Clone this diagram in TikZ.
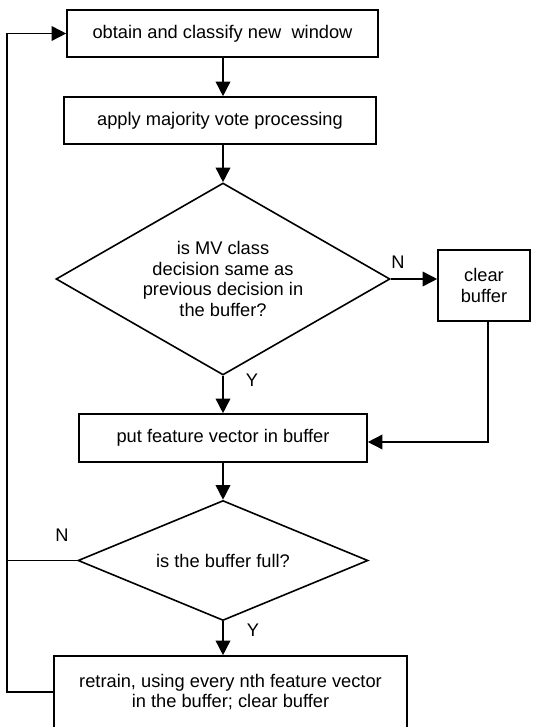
\documentclass[tikz,border=0pt]{standalone}
\usepackage{fontspec}
\setmainfont{Liberation Sans}
\usetikzlibrary{shapes.geometric,arrows.meta}

\begin{document}
\begin{tikzpicture}[x=0.75pt,y=-0.75pt,
    line width=1.2pt,
    font=\fontsize{13.7}{15.6}\selectfont,
    box/.style={draw, rectangle, align=center, inner sep=0pt},
    decide/.style={draw, diamond, align=center, inner sep=0pt, aspect=1.7},
    flow/.style={-{Triangle[length=11pt,width=11pt]}}]
            \useasboundingbox (0,0) rectangle (532,727);
            \clip (0,0) rectangle (532,727);

            \node[box, minimum width=233.25pt, minimum height=35.25pt] (obtain) at (222.5,33.5) {obtain and classify new\ \ window};
            \node[box, minimum width=234pt, minimum height=35.25pt] (vote) at (220,120.5) {apply majority vote processing};
            \node[decide, minimum width=250.5pt, minimum height=144pt] (same) at (223,279) {is MV class\\decision same as\\previous decision in\\the buffer?};
            \node[box, minimum width=69pt, minimum height=53.25pt] (clear) at (484,285.5) {clear\\buffer};
            \node[box, minimum width=216pt, minimum height=36pt] (put) at (223,438) {put feature vector in buffer};
            \node[decide, minimum width=217.5pt, minimum height=90pt] (full) at (223,560.5) {is the buffer full?};
            \node[box, minimum width=264.75pt, minimum height=54pt] (retrain) at (230.5,692) {retrain, using every nth feature vector\\in the buffer; clear buffer};

            \node (n1) at (398,262) {N};
            \node (y1) at (252,380) {Y};
            \node (n2) at (62,535) {N};
            \node (y2) at (253,630) {Y};

            \coordinate (join) at (488,442);
            \coordinate (back) at (7,692);

            \foreach \a/\b in {obtain/vote,vote/same,same/put,put/full,full/retrain} {
                \draw[flow] (\a.south -| same) -- (\b.north -| same);
            }
            \draw[flow] (same.east) -- (same.east -| clear.west);
            \draw[flow] (clear.south -| join) -- (join) -- (join -| put.east);
            \draw (full.west) -- (full.west -| back);
            \draw[flow] (retrain.west |- back) -- (back) |- (obtain.west);
        \end{tikzpicture}
\end{document}
